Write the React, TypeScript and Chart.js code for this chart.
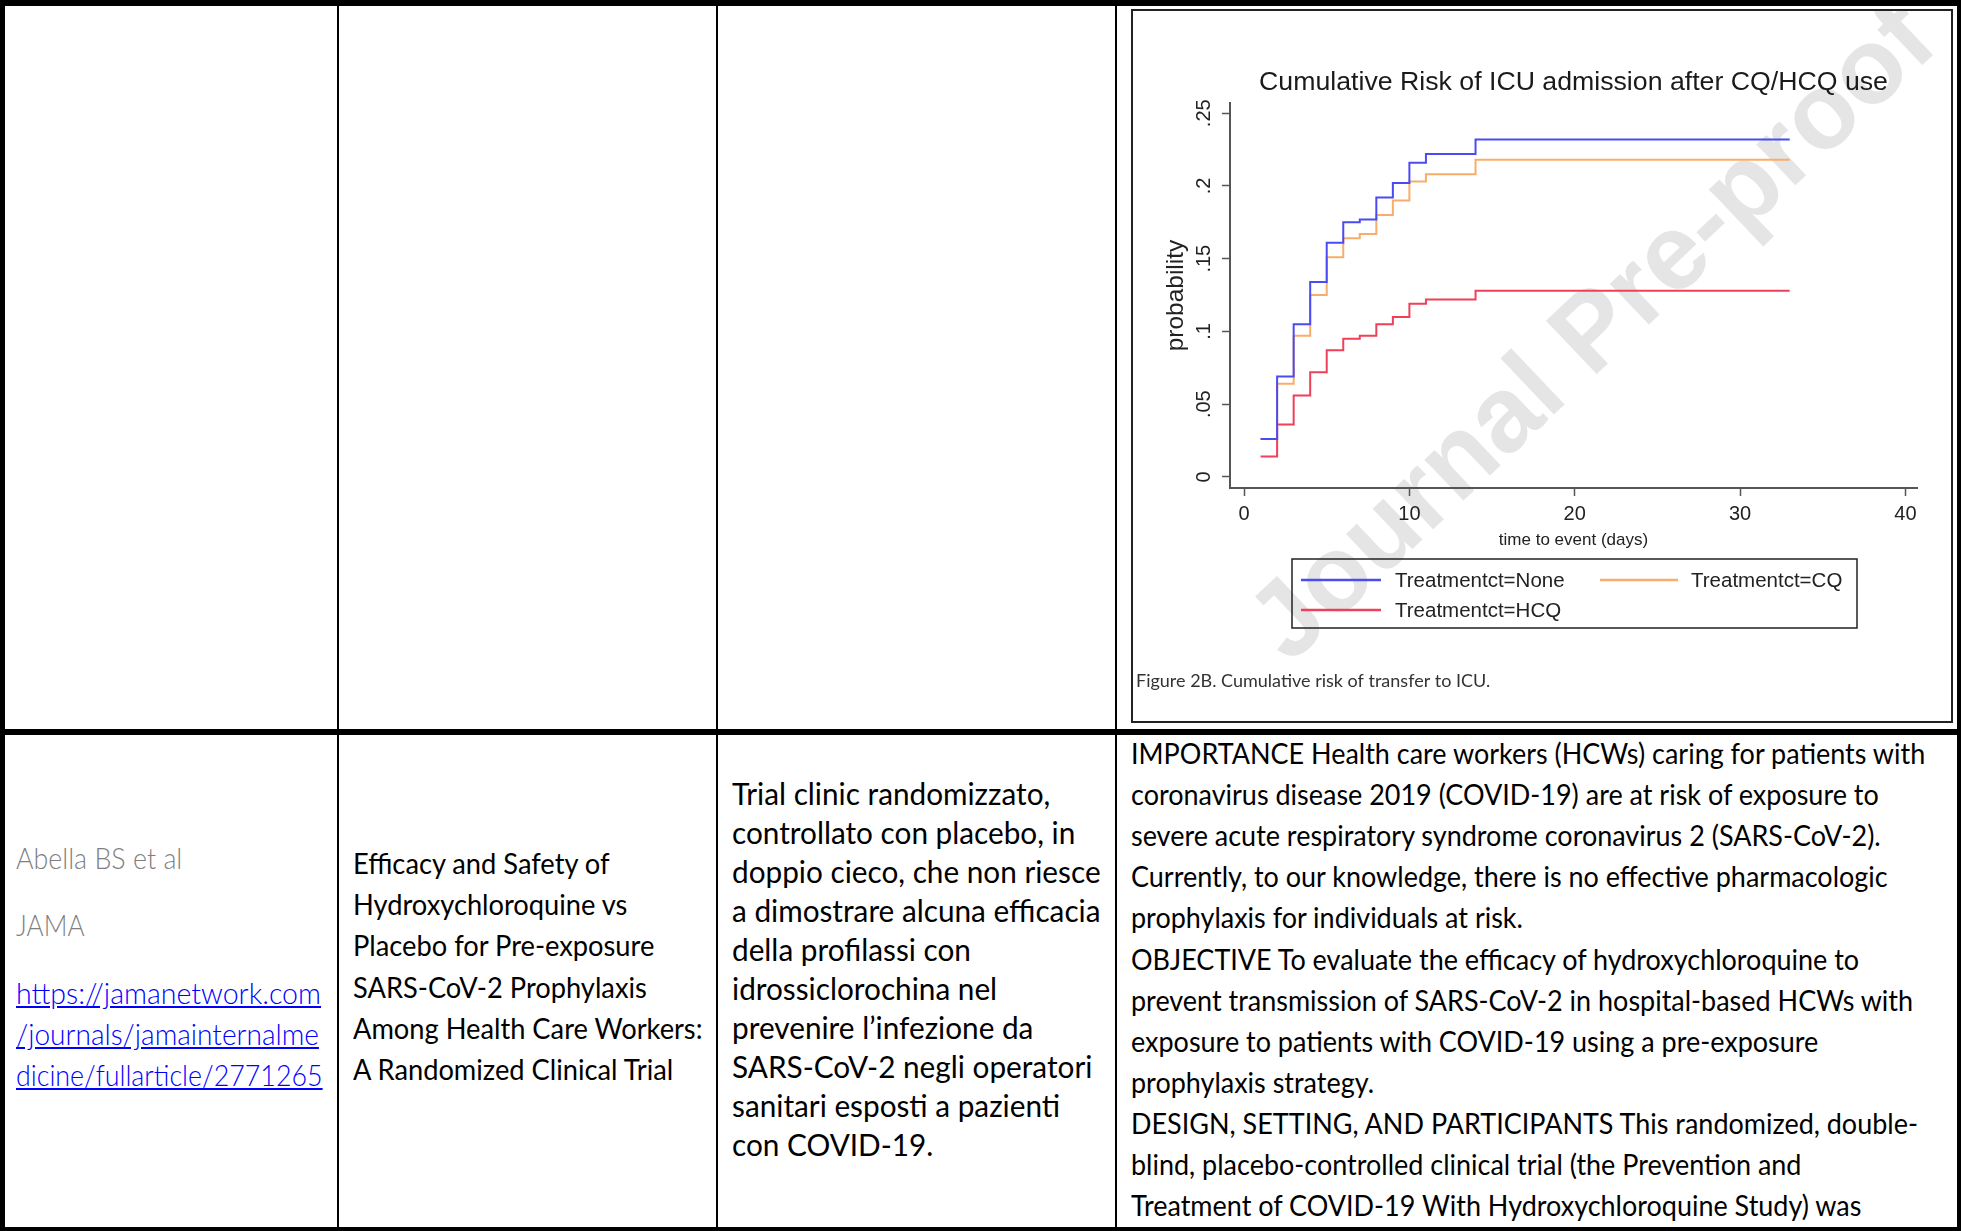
import React, { useEffect, useRef } from 'react';
import { Chart, registerables } from 'chart.js';

Chart.register(...registerables);

// ---------- chart data ----------
const chartTitle = 'Cumulative Risk of ICU admission after CQ/HCQ use';
const xAxisTitle = 'time to event (days)';
const yAxisTitle = 'probability';
const captionText = 'Figure 2B. Cumulative risk of transfer to ICU.';
const watermarkText = 'Journal Pre-proof';
const seriesLabels = ['Treatmentct=None', 'Treatmentct=CQ', 'Treatmentct=HCQ'];
const seriesColors = ['#4b4bf2', '#f8ad68', '#ee4058'];
const eventDays = [1, 2, 3, 4, 5, 6, 7, 8, 9, 10, 11, 14, 33];
const riskNone = [0.026, 0.069, 0.105, 0.134, 0.161, 0.175, 0.177, 0.192, 0.202, 0.216, 0.222, 0.232, 0.232];
const riskCQ = [0.026, 0.064, 0.097, 0.125, 0.151, 0.164, 0.167, 0.180, 0.190, 0.203, 0.208, 0.218, 0.218];
const riskHCQ = [0.014, 0.036, 0.056, 0.072, 0.087, 0.095, 0.097, 0.105, 0.110, 0.119, 0.122, 0.128, 0.128];
const xTickValues = [0, 10, 20, 30, 40];
const yTickValues = [0, 0.05, 0.1, 0.15, 0.2, 0.25];
const yTickLabels = ['0', '.05', '.1', '.15', '.2', '.25'];

// ---------- table text ----------
const authorLines = ['Abella BS et al', 'JAMA'];
const linkLines = ['https://jamanetwork.com', '/journals/jamainternalme', 'dicine/fullarticle/2771265'];
const linkHref = 'https://jamanetwork.com/journals/jamainternalmedicine/fullarticle/2771265';
const titleLines = [
  'Efficacy and Safety of',
  'Hydroxychloroquine vs',
  'Placebo for Pre-exposure',
  'SARS-CoV-2 Prophylaxis',
  'Among Health Care Workers:',
  'A Randomized Clinical Trial',
];
const commentLines = [
  'Trial clinic randomizzato,',
  'controllato con placebo, in',
  'doppio cieco, che non riesce',
  'a dimostrare alcuna efficacia',
  'della profilassi con',
  'idrossiclorochina nel',
  'prevenire l’infezione da',
  'SARS-CoV-2 negli operatori',
  'sanitari esposti a pazienti',
  'con COVID-19.',
];
const abstractLines = [
  'IMPORTANCE Health care workers (HCWs) caring for patients with',
  'coronavirus disease 2019 (COVID-19) are at risk of exposure to',
  'severe acute respiratory syndrome coronavirus 2 (SARS-CoV-2).',
  'Currently, to our knowledge, there is no effective pharmacologic',
  'prophylaxis for individuals at risk.',
  'OBJECTIVE To evaluate the efficacy of hydroxychloroquine to',
  'prevent transmission of SARS-CoV-2 in hospital-based HCWs with',
  'exposure to patients with COVID-19 using a pre-exposure',
  'prophylaxis strategy.',
  'DESIGN, SETTING, AND PARTICIPANTS This randomized, double-',
  'blind, placebo-controlled clinical trial (the Prevention and',
  'Treatment of COVID-19 With Hydroxychloroquine Study) was',
];

const ARIAL = 'Arial, "Liberation Sans", Helvetica, sans-serif';
const BODY = 'Lato, Carlito, Calibri, "Open Sans", sans-serif';

const CW = 820;
const CH = 713;

function KMChart() {
  const ref = useRef<HTMLCanvasElement | null>(null);
  useEffect(() => {
    const canvas = ref.current;
    if (!canvas) return;
    const series = [riskNone, riskCQ, riskHCQ];

    const bgPlugin = {
      id: 'bgWatermark',
      beforeDraw(chart: any) {
        const ctx = chart.ctx;
        ctx.save();
        ctx.fillStyle = '#ffffff';
        ctx.fillRect(0, 0, chart.width, chart.height);
        ctx.translate(463, 325);
        ctx.rotate((-43.5 * Math.PI) / 180);
        ctx.fillStyle = '#e5e5e5';
        ctx.font = `bold 107px ${ARIAL}`;
        ctx.textAlign = 'center';
        ctx.textBaseline = 'middle';
        ctx.fillText(watermarkText, 0, 0);
        ctx.restore();
      },
    };

    const yLabelPlugin = {
      id: 'yRotLabels',
      afterDraw(chart: any) {
        const ctx = chart.ctx;
        const ys = chart.scales.y;
        ctx.save();
        ctx.fillStyle = '#222';
        ctx.font = `20px ${ARIAL}`;
        ctx.textAlign = 'center';
        ctx.textBaseline = 'middle';
        ys.ticks.forEach((t: any, i: number) => {
          const py = ys.getPixelForValue(t.value);
          ctx.save();
          ctx.translate(72, py);
          ctx.rotate(-Math.PI / 2);
          ctx.fillText(yTickLabels[i], 0, 0);
          ctx.restore();
        });
        ctx.restore();
      },
    };

    const legendPlugin = {
      id: 'boxLegend',
      afterDraw(chart: any) {
        const ctx = chart.ctx;
        ctx.save();
        ctx.strokeStyle = '#222';
        ctx.lineWidth = 1.5;
        ctx.strokeRect(160, 549, 565, 69);
        const slots = [
          { lx: 169, len: 80, tx: 263, y: 570 },
          { lx: 468, len: 78, tx: 559, y: 570 },
          { lx: 169, len: 80, tx: 263, y: 600 },
        ];
        ctx.font = `20.5px ${ARIAL}`;
        ctx.textBaseline = 'middle';
        ctx.textAlign = 'left';
        chart.data.datasets.forEach((ds: any, i: number) => {
          const s = slots[i];
          ctx.strokeStyle = ds.borderColor;
          ctx.lineWidth = 2.5;
          ctx.beginPath();
          ctx.moveTo(s.lx, s.y);
          ctx.lineTo(s.lx + s.len, s.y);
          ctx.stroke();
          ctx.fillStyle = '#222';
          ctx.fillText(ds.label, s.tx, s.y + 1);
        });
        ctx.fillStyle = '#333';
        ctx.font = `18px ${BODY}`;
        ctx.fillText(captionText, 4, 671, 356);
        ctx.restore();
      },
    };

    const chart = new Chart(canvas, {
      type: 'line',
      data: {
        datasets: seriesLabels.map((label, k) => ({
          label,
          data: eventDays.map((d, i) => ({ x: d, y: series[k][i] })),
          borderColor: seriesColors[k],
          backgroundColor: seriesColors[k],
          borderWidth: 2,
          stepped: 'before' as const,
          fill: false,
          pointRadius: 0,
        })),
      },
      options: {
        animation: false,
        responsive: false,
        maintainAspectRatio: false,
        devicePixelRatio: 1,
        layout: { padding: { left: 0, right: 35, top: 0, bottom: 0 } },
        plugins: {
          legend: { display: false },
          tooltip: { enabled: false },
          title: {
            display: true,
            text: chartTitle,
            fullSize: false,
            color: '#1a1a1a',
            font: { family: ARIAL, size: 26.7, weight: 'normal' },
            padding: { top: 57, bottom: 4 },
          },
        },
        scales: {
          x: {
            type: 'linear',
            min: -0.85,
            max: 40.7,
            afterBuildTicks: (s: any) => {
              s.ticks = xTickValues.map((v) => ({ value: v }));
            },
            afterFit: (s: any) => {
              s.height = 235;
              s.paddingLeft = 0;
              s.paddingRight = 0;
            },
            ticks: {
              color: '#222',
              font: { family: ARIAL, size: 20 },
              padding: 6,
              maxRotation: 0,
              minRotation: 0,
              callback: (v: any) => String(v),
            },
            grid: { drawOnChartArea: false, drawTicks: true, tickLength: 8, color: '#555', tickWidth: 1.5 },
            border: { display: true, color: '#555', width: 2 },
            title: {
              display: true,
              text: xAxisTitle,
              color: '#222',
              font: { family: ARIAL, size: 17 },
              padding: { top: 0, bottom: 172 },
            },
          },
          y: {
            type: 'linear',
            min: -0.0076,
            max: 0.257,
            afterBuildTicks: (s: any) => {
              s.ticks = yTickValues.map((v) => ({ value: v }));
            },
            afterFit: (s: any) => {
              s.width = 98;
              s.paddingTop = 0;
              s.paddingBottom = 0;
            },
            ticks: {
              color: 'rgba(0,0,0,0)',
              font: { family: ARIAL, size: 20 },
              callback: (_v: any, i: number) => yTickLabels[i],
            },
            grid: { drawOnChartArea: false, drawTicks: true, tickLength: 8, color: '#555', tickWidth: 1.5 },
            border: { display: true, color: '#555', width: 2 },
            title: {
              display: true,
              text: yAxisTitle,
              color: '#222',
              font: { family: ARIAL, size: 24.5 },
              padding: { top: 30, bottom: 0 },
            },
          },
        },
      } as any,
      plugins: [bgPlugin, yLabelPlugin, legendPlugin],
    });
    return () => chart.destroy();
  }, []);
  return (
    <canvas
      ref={ref}
      width={CW}
      height={CH}
      style={{ position: 'absolute', left: 1132, top: 10, width: CW, height: CH }}
    />
  );
}

type LineSpec = { text: string; center: number; color?: string; link?: boolean; sx?: number };

function TextLines(props: { x: number; size: number; weight?: number; scaleX?: number; lines: LineSpec[] }) {
  const { x, size, weight = 400, scaleX = 1, lines } = props;
  const lh = Math.round(size * 1.3);
  return (
    <>
      {lines.map((l, i) => {
        const style: React.CSSProperties = {
          position: 'absolute',
          left: x,
          top: l.center - lh / 2,
          height: lh,
          lineHeight: `${lh}px`,
          fontFamily: BODY,
          fontSize: size,
          fontWeight: weight,
          whiteSpace: 'nowrap',
          color: l.color || '#000',
          transform: `scaleX(${l.sx ?? scaleX})`,
          transformOrigin: 'left center',
        };
        return l.link ? (
          <a key={i} href={linkHref} style={{ ...style, color: '#0000ff', textDecoration: 'underline' }}>
            {l.text}
          </a>
        ) : (
          <div key={i} style={style}>
            {l.text}
          </div>
        );
      })}
    </>
  );
}

function Rule(props: { x: number; y: number; w: number; h: number }) {
  return <div style={{ position: 'absolute', left: props.x, top: props.y, width: props.w, height: props.h, background: '#000' }} />;
}

export default function App() {
  const col1Scales = [0.925, 0.9, 0.984, 0.968, 0.925];
  const col1: LineSpec[] = [
    { text: authorLines[0], center: 858, color: '#7f7f7f', sx: col1Scales[0] },
    { text: authorLines[1], center: 925, color: '#7f7f7f', sx: col1Scales[1] },
    ...linkLines.map((t, i) => ({ text: t, center: 993 + i * 41, link: true, sx: col1Scales[2 + i] })),
  ];
  const col2: LineSpec[] = titleLines.map((t, i) => ({ text: t, center: 863 + i * 41.2 }));
  const col3: LineSpec[] = commentLines.map((t, i) => ({ text: t, center: 793 + i * 39.05 }));
  const col4: LineSpec[] = abstractLines.map((t, i) => ({ text: t, center: 753 + i * 41.1 }));

  return (
    <div
      style={{
        position: 'absolute',
        left: 0,
        top: 0,
        width: 1961,
        height: 1231,
        background: '#fff',
        overflow: 'hidden',
      }}
    >
      <KMChart />
      {/* image frame */}
      <div
        style={{
          position: 'absolute',
          left: 1131,
          top: 9,
          width: 822,
          height: 714,
          boxSizing: 'border-box',
          border: '2px solid #222',
          pointerEvents: 'none',
        }}
      />
      {/* table rules */}
      <Rule x={0} y={0} w={1961} h={6} />
      <Rule x={0} y={729} w={1961} h={6} />
      <Rule x={0} y={1227} w={1961} h={4} />
      <Rule x={0} y={0} w={5} h={1231} />
      <Rule x={1957} y={0} w={4} h={1231} />
      <Rule x={337} y={0} w={2} h={1231} />
      <Rule x={716} y={0} w={2} h={1231} />
      <Rule x={1115} y={0} w={2} h={1231} />

      <TextLines x={16} size={29} weight={300} lines={col1} />
      <TextLines x={353} size={29} scaleX={0.94} lines={col2} />
      <TextLines x={732} size={31.5} scaleX={0.944} lines={col3} />
      <TextLines x={1131} size={29} scaleX={0.93} lines={col4} />
    </div>
  );
}
